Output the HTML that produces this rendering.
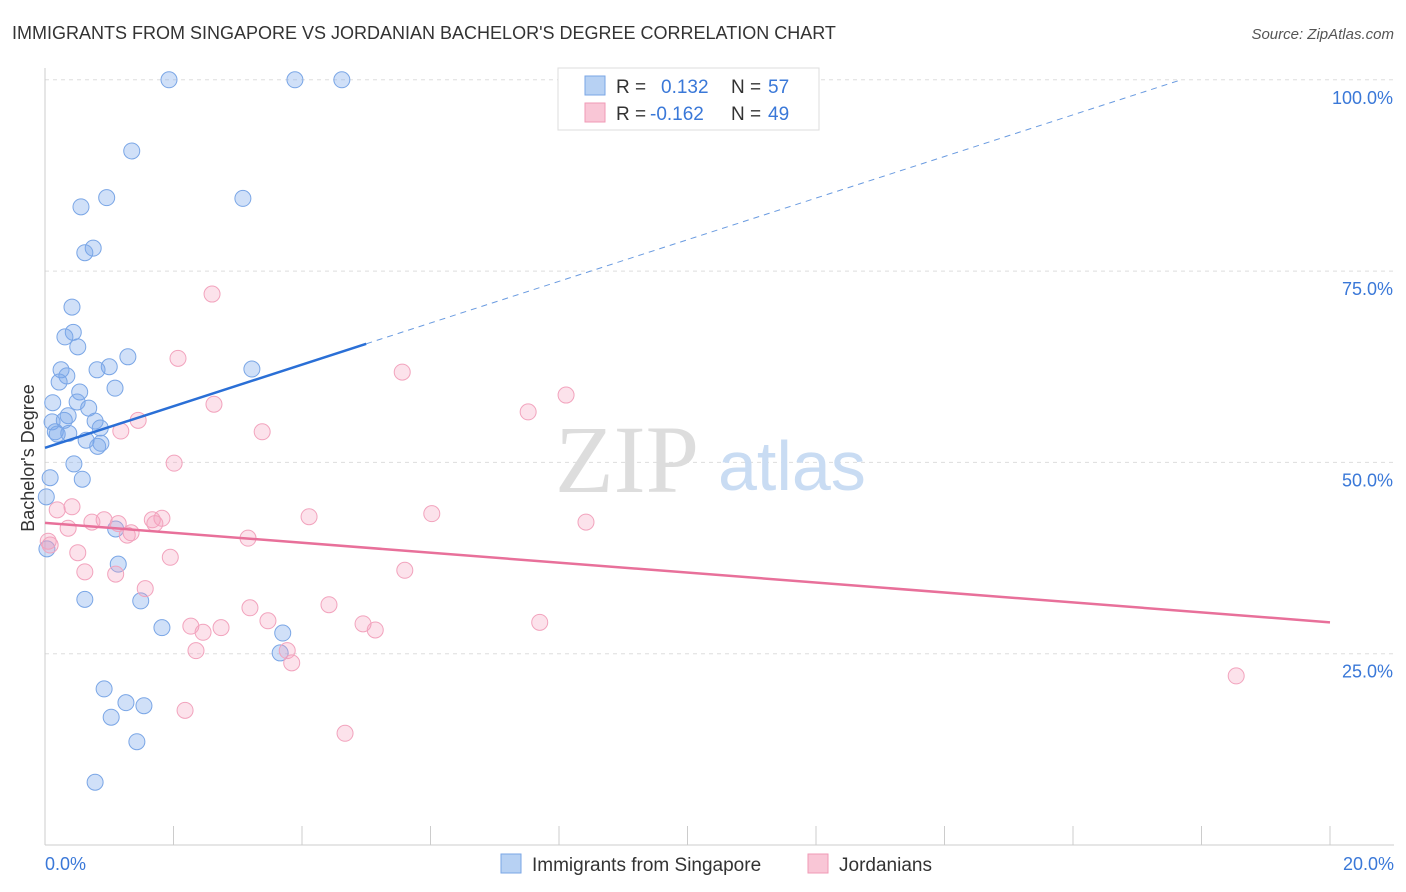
<!DOCTYPE html>
<html><head><meta charset="utf-8"><style>
body{margin:0;background:#fff;font-family:"Liberation Sans",sans-serif}
svg{display:block}
</style></head><body>
<svg id="c" width="1406" height="892">
<text x="12" y="39" font-size="18" fill="#333">IMMIGRANTS FROM SINGAPORE VS JORDANIAN BACHELOR'S DEGREE CORRELATION CHART</text>
<text x="1394" y="39" font-size="15" fill="#555" font-style="italic" text-anchor="end">Source: ZipAtlas.com</text>
<g id="grid"></g>
<text x="555" y="492" font-size="96" font-family="Liberation Serif,serif" fill="#ddd">ZIP</text>
<text x="718" y="490" font-size="70" fill="#c9dcf3">atlas</text>
<g id="marks"></g>
<text x="34" y="458" font-size="18" fill="#333" transform="rotate(-90 34 458)" text-anchor="middle">Bachelor's Degree</text>
<text x="45" y="870" font-size="18" fill="#3a78d8">0.0%</text>
<text x="1394" y="870" font-size="18" fill="#3a78d8" text-anchor="end">20.0%</text>
<g>
<rect x="558" y="68" width="261" height="62" fill="#fff" stroke="#ddd"/>
<rect x="585" y="76" width="20" height="19" fill="#b7d1f3" stroke="#7aa6e6"/>
<rect x="585" y="103" width="20" height="19" fill="#f9c6d6" stroke="#f09ab6"/>
<text x="616" y="93" font-size="19" fill="#333">R = </text><text x="661" y="93" font-size="19" fill="#3a78d8">0.132</text>
<text x="731" y="93" font-size="19" fill="#333">N = </text><text x="768" y="93" font-size="19" fill="#3a78d8">57</text>
<text x="616" y="120" font-size="19" fill="#333">R = </text><text x="650" y="120" font-size="19" fill="#3a78d8">-0.162</text>
<text x="731" y="120" font-size="19" fill="#333">N = </text><text x="768" y="120" font-size="19" fill="#3a78d8">49</text>
</g>
<g>
<rect x="501" y="854" width="20" height="19" fill="#b7d1f3" stroke="#7aa6e6"/>
<text x="532" y="871" font-size="19" fill="#333">Immigrants from Singapore</text>
<rect x="808" y="854" width="20" height="19" fill="#f9c6d6" stroke="#f09ab6"/>
<text x="839" y="871" font-size="19" fill="#333">Jordanians</text>
</g>
</svg>
<script>
const blueX=[1.93,3.89,4.62,1.35,0.96,3.08,0.56,0.75,0.62,0.42,0.44,0.31,0.51,1.29,1.0,0.81,3.22,0.25,0.34,0.22,1.09,0.54,0.12,0.5,0.68,0.36,0.78,0.11,0.3,0.86,0.16,0.19,0.37,0.64,0.87,0.82,0.45,0.08,0.58,0.02,1.1,0.03,1.14,0.62,1.49,1.82,3.7,3.66,0.92,1.26,1.54,1.03,1.43,0.78];
const blueY=[100,100,100,90.7,84.6,84.5,83.4,78.0,77.4,70.3,67.0,66.4,65.1,63.8,62.5,62.1,62.2,62.1,61.3,60.5,59.7,59.2,57.8,57.9,57.1,56.1,55.4,55.3,55.5,54.5,54.0,53.7,53.8,52.9,52.5,52.1,49.8,48.0,47.8,45.5,41.3,38.7,36.7,32.1,31.9,28.4,27.7,25.1,20.4,18.6,18.2,16.7,13.5,8.2];
const pinkX=[2.6,2.07,5.56,8.11,7.52,2.63,1.45,1.18,3.38,2.01,0.42,0.19,6.02,4.11,8.42,1.82,1.67,0.92,0.73,1.14,1.71,0.36,1.34,3.16,1.28,0.05,0.51,1.95,5.6,0.62,1.1,1.56,3.19,4.42,3.47,7.7,2.27,4.95,5.14,2.74,2.46,2.35,3.77,3.84,18.54,2.18,4.67,0.08];
const pinkY=[72.0,63.6,61.8,58.8,56.6,57.6,55.5,54.1,54.0,49.9,44.2,43.8,43.3,42.9,42.2,42.7,42.5,42.5,42.2,42.0,42.0,41.4,40.8,40.1,40.5,39.7,38.2,37.6,35.9,35.7,35.4,33.5,31.0,31.4,29.3,29.1,28.6,28.9,28.1,28.4,27.8,25.4,25.4,23.8,22.1,17.6,14.6,39.2];
const yTicks=[25,50,75,100];
const yTickLabels=["25.0%","50.0%","75.0%","100.0%"];
const xTicks=[0,2,4,6,8,10,12,14,16,18,20];
const blueTrend=[51.9,2.72], pinkTrend=[42.1,-0.65];
const X=v=>45+v*64.25, Y=v=>845-v*7.652;
const NS="http://www.w3.org/2000/svg";
function mk(p,t,a){const e=document.createElementNS(NS,t);for(const k in a)e.setAttribute(k,a[k]);p.appendChild(e);return e;}
const g=document.getElementById('grid'), m=document.getElementById('marks');
yTicks.forEach((t,i)=>{
 const l=mk(g,'line',{x1:45,x2:1394,y1:Y(t),y2:Y(t),stroke:'#ddd','stroke-dasharray':'4,4'});
 
 
 const tx=mk(g,'text',{x:1393,y:Y(t)+24,'font-size':18,fill:'#3a78d8','text-anchor':'end'});tx.textContent=yTickLabels[i];
 
 
});
const ax=mk(g,'line',{x1:45,x2:1394,y1:845,y2:845,stroke:'#ccc'});


const ay=mk(g,'line',{x1:45,x2:45,y1:68,y2:845,stroke:'#ccc'});


xTicks.forEach(t=>{const l=mk(g,'line',{x1:X(t),x2:X(t),y1:826,y2:845,stroke:'#ccc'});
 
 });
blueX.forEach((x,i)=>{const c=mk(m,'circle',{cx:X(x),cy:Y(blueY[i]),r:8,fill:'rgba(120,165,235,0.35)',stroke:'#7aa6e6','stroke-width':1});
 
 });
pinkX.forEach((x,i)=>{const c=mk(m,'circle',{cx:X(x),cy:Y(pinkY[i]),r:8,fill:'rgba(245,160,190,0.3)',stroke:'#f2a3bd','stroke-width':1});
 
 });
const bx1=5, bx2=(100-blueTrend[0])/blueTrend[1];
const b1=mk(m,'line',{x1:X(0),y1:Y(blueTrend[0]),x2:X(bx1),y2:Y(blueTrend[0]+blueTrend[1]*bx1),stroke:'#2a6fd6','stroke-width':2.5});


const b2=mk(m,'line',{x1:X(bx1),y1:Y(blueTrend[0]+blueTrend[1]*bx1),x2:X(bx2),y2:Y(100),stroke:'#6a9be0','stroke-width':1,'stroke-dasharray':'6,5'});


const p1=mk(m,'line',{x1:X(0),y1:Y(pinkTrend[0]),x2:X(20),y2:Y(pinkTrend[0]+pinkTrend[1]*20),stroke:'#e8709a','stroke-width':2.5});


</script>
</body></html>
